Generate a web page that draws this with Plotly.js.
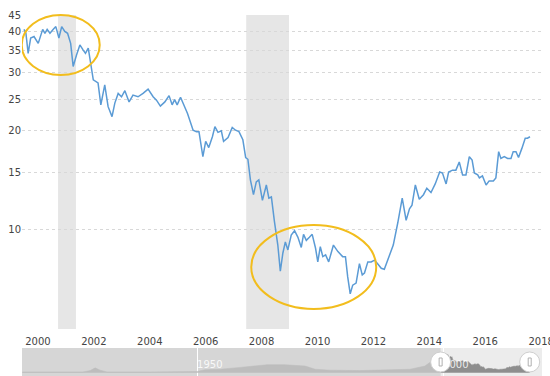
<!DOCTYPE html>
<html>
<head>
<meta charset="utf-8">
<script src="https://cdn.plot.ly/plotly-3.0.1.min.js"></script>
<style>html,body{margin:0;padding:0;background:#fff;overflow:hidden;}#chart{width:550px;height:376px;}</style>
</head>
<body>
<div id="chart"></div>
<script>
// ---- data ----
const mainYears = [1999.50,1999.57,1999.65,1999.74,1999.86,2000.01,2000.17,2000.25,2000.33,2000.43,2000.55,2000.64,2000.75,2000.85,2000.96,2001.06,2001.17,2001.26,2001.38,2001.50,2001.62,2001.70,2001.80,2001.88,2001.98,2002.15,2002.25,2002.39,2002.51,2002.65,2002.75,2002.87,2002.99,2003.11,2003.26,2003.40,2003.58,2003.76,2003.94,2004.12,2004.24,2004.38,2004.54,2004.69,2004.80,2004.89,2004.98,2005.10,2005.23,2005.35,2005.55,2005.67,2005.76,2005.90,2006.00,2006.11,2006.24,2006.33,2006.44,2006.56,2006.64,2006.80,2006.95,2007.07,2007.19,2007.33,2007.43,2007.51,2007.60,2007.71,2007.81,2007.90,2008.03,2008.17,2008.26,2008.35,2008.46,2008.58,2008.67,2008.76,2008.85,2008.94,2009.06,2009.18,2009.30,2009.42,2009.50,2009.60,2009.71,2009.81,2009.93,2010.01,2010.10,2010.19,2010.29,2010.40,2010.57,2010.73,2010.90,2011.00,2011.08,2011.17,2011.26,2011.38,2011.50,2011.60,2011.68,2011.80,2011.92,2012.04,2012.15,2012.28,2012.39,2012.57,2012.71,2012.87,2013.03,2013.17,2013.29,2013.38,2013.50,2013.64,2013.79,2013.91,2014.06,2014.21,2014.37,2014.47,2014.60,2014.69,2014.83,2014.95,2015.07,2015.19,2015.31,2015.43,2015.53,2015.61,2015.73,2015.79,2015.90,2016.03,2016.14,2016.29,2016.38,2016.48,2016.56,2016.68,2016.80,2016.92,2017.00,2017.10,2017.19,2017.31,2017.43,2017.51,2017.60];
const mainValues = [40.7,39.6,34.4,38.3,38.7,36.9,40.7,39.6,40.7,39.6,40.7,41.5,38.3,41.5,40.1,39.6,36.9,31.4,34.0,36.5,35.2,34.4,35.7,32.1,28.6,28.0,24.0,27.6,23.7,22.1,24.3,26.0,25.4,26.5,24.5,25.7,25.4,26.0,26.8,25.4,24.8,23.8,24.5,25.6,24.0,24.9,24.0,25.3,23.7,22.6,20.1,19.9,19.9,16.7,18.6,17.8,19.2,20.6,19.8,20.0,18.6,19.1,20.5,20.1,19.9,18.8,16.6,16.4,14.2,12.8,14.0,14.2,12.3,13.7,12.5,12.6,10.6,9.0,7.5,8.5,9.2,8.7,9.65,9.95,9.5,8.85,9.7,9.3,9.5,9.7,8.8,8.0,8.9,8.3,8.4,8.0,9.0,8.6,8.3,8.3,7.2,6.4,6.8,6.9,7.9,7.3,7.4,8.0,8.0,8.1,7.9,7.65,7.6,8.3,9.0,10.5,12.5,10.7,11.6,11.9,13.7,12.4,12.8,13.4,13.0,13.8,15.0,14.9,13.8,15.0,15.2,15.2,16.1,14.7,14.7,16.7,16.3,14.9,14.7,14.4,14.6,13.7,14.1,14.1,14.4,17.3,16.5,16.7,16.5,16.5,17.3,17.3,16.6,17.7,19.0,19.0,19.2];

// long history shown in the navigator strip (rough reading)
const histYears  = [1914.5,1922.0,1926.8,1928.3,1929.3,1930.3,1931.7,1940.4,1950.0,1951.6,1954.7,1958.7,1964.2,1967.9,1972.0,1974.0,1977.0,1983.0,1989.2,1993.3,1996.3,1998.4,1999.45];
const histValues = [2,2,2,5,11,6,2,2,3,7,8,12,18,18,15,8,6,5,6,8,15,33,40];

const recStart = [2000.72, 2007.45];
const recEnd   = [2001.36, 2008.98];

const xTicks = [2000,2002,2004,2006,2008,2010,2012,2014,2016,2018];
const yTicks = [5,10,15,20,25,30,35,40,45];
const yTickText = ['','10','15','20','25','30','35','40','45'];
const navTicks = [1950, 2000];

// highlighted areas (year span, vertical fraction of plot)
const ellipseX0 = [1999.42, 2007.63];
const ellipseX1 = [2002.21, 2012.10];
const ellipseY0 = [0.809, 0.064];
const ellipseY1 = [1.0, 0.331];

// ---- build ----
const shapes = [];
// navigator background
shapes.push({type:'rect', xref:'x2 domain', yref:'y2 domain', x0:0, x1:1, y0:0, y1:1, fillcolor:'#d6d6d6', line:{width:0}, layer:'below'});
shapes.push({type:'rect', xref:'x2', yref:'y2 domain', x0:mainYears[0], x1:2020.2, y0:0, y1:1, fillcolor:'#ececec', line:{width:0}, layer:'below'});
for (let i = 0; i < recStart.length; i++) {
  shapes.push({type:'rect', xref:'x', yref:'y domain', x0:recStart[i], x1:recEnd[i], y0:0, y1:1,
    fillcolor:'#e6e6e6', line:{width:0}, layer:'below'});
}
for (let i = 0; i < ellipseX0.length; i++) {
  shapes.push({type:'circle', xref:'x', yref:'y domain', x0:ellipseX0[i], x1:ellipseX1[i], y0:ellipseY0[i], y1:ellipseY1[i],
    line:{color:'#f2bd1d', width:2}, fillcolor:'rgba(0,0,0,0)', layer:'above'});
}
// navigator handles
[mainYears[0], mainYears[mainYears.length-1]].forEach(function(xa){
  shapes.push({type:'circle', xref:'x2', yref:'y2 domain', xsizemode:'pixel', ysizemode:'pixel',
    xanchor:xa, yanchor:0.5, x0:-10, x1:10, y0:-10, y1:10, fillcolor:'#ffffff', line:{color:'#cfcfcf', width:1}, layer:'above'});
  shapes.push({type:'rect', xref:'x2', yref:'y2 domain', xsizemode:'pixel', ysizemode:'pixel',
    xanchor:xa, yanchor:0.5, x0:-1.5, x1:1.5, y0:-4, y1:4, fillcolor:'rgba(0,0,0,0)', line:{color:'#b0b0b0', width:1}, layer:'above'});
});

const traces = [
  {x: mainYears, y: mainValues, type:'scatter', mode:'lines', xaxis:'x', yaxis:'y',
   line:{color:'#5b9bd5', width:1.5}, hoverinfo:'skip'},
  {x: histYears, y: histValues, type:'scatter', mode:'lines', xaxis:'x2', yaxis:'y2',
   fill:'tozeroy', fillcolor:'#bdbdbd', line:{color:'#bdbdbd', width:0.5}, hoverinfo:'skip'},
  {x: mainYears, y: mainValues, type:'scatter', mode:'lines', xaxis:'x2', yaxis:'y2',
   fill:'tozeroy', fillcolor:'#8e8e8e', line:{color:'#8e8e8e', width:0.5}, hoverinfo:'skip'}
];

const layout = {
  width:550, height:376,
  margin:{l:22, r:8, t:15, b:0},
  paper_bgcolor:'#ffffff', plot_bgcolor:'rgba(0,0,0,0)',
  showlegend:false,
  font:{family:'DejaVu Sans, sans-serif', size:10, color:'#444'},
  xaxis:{type:'linear', range:[1999.43, 2018.03], domain:[0,1], anchor:'y',
    tickvals:xTicks, ticktext:xTicks.map(String), showgrid:false, zeroline:false, showline:false,
    ticks:'', ticklabelstandoff:5, ticklabeloverflow:'allow', tickfont:{size:10, color:'#444'}, fixedrange:true},
  yaxis:{type:'log', range:[Math.log10(5), Math.log10(45)], domain:[0.130, 1], anchor:'x',
    tickvals:yTicks, ticktext:yTickText, showgrid:true, gridcolor:'#d8d8d8', griddash:'dot', gridwidth:1,
    zeroline:false, showline:false, ticks:'', ticklabeloverflow:'allow', tickfont:{size:10, color:'#444'}, fixedrange:true},
  xaxis2:{type:'linear', range:[1914.43, 2020.1], domain:[0,1], anchor:'y2',
    tickvals:navTicks, ticktext:navTicks.map(String), showgrid:true, gridcolor:'#ffffff', gridwidth:1,
    ticklabelposition:'inside right', tickfont:{size:10, color:'rgba(255,255,255,0.85)'},
    zeroline:false, showline:false, ticks:'', fixedrange:true},
  yaxis2:{range:[-7, 55], domain:[0, 0.0776], anchor:'x2', showgrid:false, zeroline:false,
    showticklabels:false, showline:false, ticks:'', fixedrange:true},
  shapes: shapes
};

Plotly.newPlot('chart', traces, layout, {displayModeBar:false, staticPlot:true});
</script>
</body>
</html>
